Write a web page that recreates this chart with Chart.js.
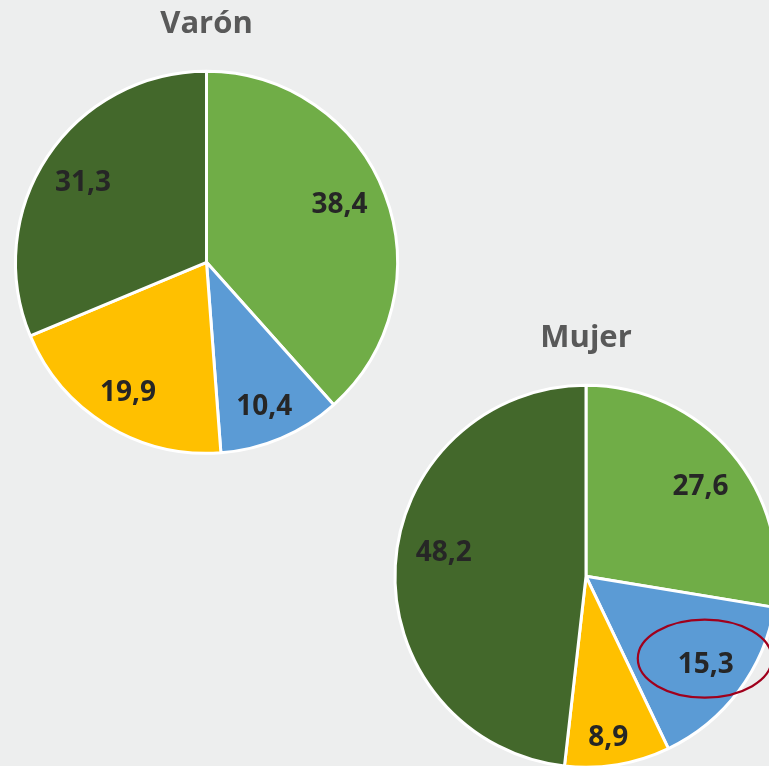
<!DOCTYPE html>
<html>
<head>
<meta charset="utf-8">
<script src="https://cdn.jsdelivr.net/npm/chart.js@4/dist/chart.umd.min.js"></script>
<style>
  html, body { margin: 0; padding: 0; width: 769px; height: 766px; overflow: hidden; background: #EDEEEE; }
  .box { position: absolute; }
  #box1 { left: 0px; top: 0px; width: 413px; height: 482px; }
  #box2 { left: 379px; top: 314px; width: 414px; height: 482px; }
</style>
</head>
<body>
<div class="box" id="box1"><canvas id="c1"></canvas></div>
<div class="box" id="box2"><canvas id="c2"></canvas></div>
<script>
// ---- data ----
const categories = ["Categoría 1", "Categoría 2", "Categoría 3", "Categoría 4"];
const titleVaron = "Varón";
const titleMujer = "Mujer";
const valuesVaron = [38.4, 10.4, 19.9, 31.3];
const valuesMujer = [27.6, 15.3, 8.9, 48.2];

// ---- label placement styles (fraction of radius, angular nudge in degrees) ----
const labelRatioVaron = [0.762, 0.807, 0.791, 0.773];
const labelNudgeVaron = [-3.15, 1.06, -0.2, -0.4];
const labelRatioMujer = [0.766, 0.773, 0.844, 0.756];
const labelNudgeMujer = [1.84, -1.13, 1.59, 6.85];
const sliceColors = ["#70AD47", "#5B9BD5", "#FFC000", "#43682B"];

const fmt = v => v.toFixed(1).replace('.', ',');

const sliceLabels = {
  id: 'sliceLabels',
  afterDatasetsDraw(chart, args, opts) {
    const ctx = chart.ctx;
    const meta = chart.getDatasetMeta(0);
    const data = chart.data.datasets[0].data;
    ctx.save();
    ctx.font = 'bold 28px "Open Sans", sans-serif';
    ctx.fillStyle = '#262626';
    ctx.textAlign = 'center';
    ctx.textBaseline = 'middle';
    let hlPos = null;
    meta.data.forEach((arc, i) => {
      const p = arc.getProps(['x', 'y', 'startAngle', 'endAngle', 'outerRadius'], true);
      const mid = (p.startAngle + p.endAngle) / 2 + (opts.nudges ? opts.nudges[i] : 0) * Math.PI / 180;
      const r = p.outerRadius * (opts.ratios ? opts.ratios[i] : 0.78);
      const x = p.x + Math.cos(mid) * r;
      const y = p.y + Math.sin(mid) * r + 2;
      ctx.fillText(fmt(data[i]), x, y);
      if (opts.highlight && opts.highlight.index === i) hlPos = {x, y};
    });
    if (hlPos) {
      const h = opts.highlight;
      ctx.beginPath();
      ctx.ellipse(hlPos.x + h.dx, hlPos.y + h.dy, h.rx, h.ry, 0, 0, Math.PI * 2);
      ctx.strokeStyle = '#A0001C';
      ctx.lineWidth = 2.2;
      ctx.stroke();
    }
    ctx.restore();
  }
};

function makePie(id, title, values, ratios, nudges, highlight) {
  return new Chart(document.getElementById(id), {
    type: 'pie',
    data: {
      labels: categories,
      datasets: [{
        data: values,
        backgroundColor: sliceColors,
        borderColor: '#FFFFFF',
        borderWidth: 3
      }]
    },
    options: {
      responsive: true,
      maintainAspectRatio: false,
      animation: false,
      radius: 191,
      layout: { padding: 0 },
      plugins: {
        legend: { display: false },
        tooltip: { enabled: false },
        title: {
          display: true,
          text: title,
          color: '#595959',
          font: { family: '"Open Sans", sans-serif', size: 31, weight: 'bold', lineHeight: 1.2 },
          padding: { top: 5.4, bottom: 0 }
        },
        sliceLabels: { ratios: ratios, nudges: nudges, highlight: highlight }
      }
    },
    plugins: [sliceLabels]
  });
}

makePie('c1', titleVaron, valuesVaron, labelRatioVaron, labelNudgeVaron, null);
makePie('c2', titleMujer, valuesMujer, labelRatioMujer, labelNudgeMujer, { index: 1, dx: -1, dy: -6, rx: 67, ry: 39 });
</script>
</body>
</html>
